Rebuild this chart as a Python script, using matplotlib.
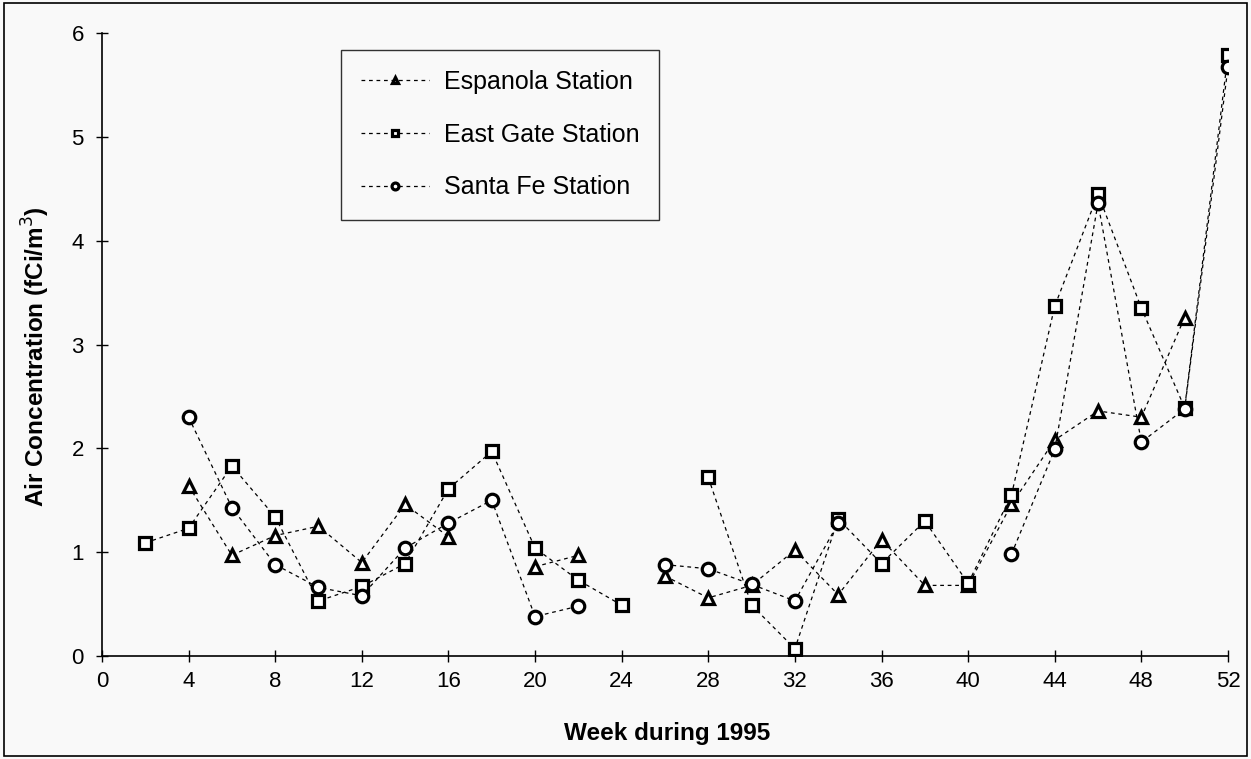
import numpy as np
import matplotlib
matplotlib.use('Agg')
import matplotlib.pyplot as plt
from matplotlib.patches import Rectangle

nan = np.nan

# sampling weeks (every other week)
weeks = [2, 4, 6, 8, 10, 12, 14, 16, 18, 20, 22, 24, 26,
         28, 30, 32, 34, 36, 38, 40, 42, 44, 46, 48, 50, 52]

# air concentration, fCi/m3 (nan = no sample)
espanola = [nan, 1.64, 0.97, 1.16, 1.25, 0.90, 1.46, 1.15, nan, 0.86, 0.97, nan, 0.77,
            0.56, 0.68, 1.02, 0.59, 1.12, 0.68, 0.68, 1.46, 2.08, 2.36, 2.30, 3.26, nan]
east_gate = [1.09, 1.23, 1.83, 1.34, 0.53, 0.67, 0.89, 1.61, 1.97, 1.04, 0.73, 0.49, nan,
             1.72, 0.49, 0.07, 1.32, 0.89, 1.30, 0.70, 1.55, 3.37, 4.45, 3.35, 2.39, 5.79]
santa_fe = [nan, 2.30, 1.43, 0.88, 0.66, 0.58, 1.04, 1.28, 1.50, 0.38, 0.48, nan, 0.88,
            0.84, 0.69, 0.53, 1.28, nan, nan, nan, 0.98, 1.99, 4.36, 2.06, 2.38, 5.67]

names = ['Espanola Station', 'East Gate Station', 'Santa Fe Station']
markers = ['^', 's', 'o']

plt.rcParams['font.family'] = ['Liberation Sans', 'DejaVu Sans']

bg = '#f9f9f9'
fig = plt.figure(figsize=(12.51, 7.59), dpi=100, facecolor=bg)
ax = fig.add_axes([0.0815, 0.1357, 0.9001, 0.8208])
ax.set_facecolor(bg)

for vals, m, name in zip([espanola, east_gate, santa_fe], markers, names):
    ax.plot(weeks, vals, color='black', linewidth=0.9, dashes=(3, 3),
            marker=m, markersize=9, markerfacecolor='white',
            markeredgecolor='black', markeredgewidth=2.3, label=name)

ax.set_xlim(0, 52)
ax.set_ylim(0, 6)
ax.set_xticks(np.arange(0, 53, 4))
ax.set_yticks(np.arange(0, 7, 1))
ax.tick_params(axis='both', direction='inout', length=8, width=1,
               labelsize=16, colors='black')
ax.tick_params(axis='x', pad=7)
ax.tick_params(axis='y', pad=9)
for s in ['top', 'right']:
    ax.spines[s].set_visible(False)
for s in ['left', 'bottom']:
    ax.spines[s].set_linewidth(1.2)

ax.set_xlabel('Week during 1995', fontsize=17.5, fontweight='bold')
ax.set_ylabel('Air Concentration (fCi/m$^3$)', fontsize=17.5, fontweight='bold')
ax.xaxis.set_label_coords(0.502, -0.1236)
ax.xaxis.label.set_va('center')
ax.yaxis.set_label_coords(-0.0586, 0.48)
ax.yaxis.label.set_va('center')

leg = ax.legend(loc='upper left', bbox_to_anchor=(341 / 1251, 1 - 50 / 759),
                bbox_transform=fig.transFigure, fontsize=18, markerscale=0.55,
                handlelength=2.7, handletextpad=0.6, labelspacing=1.15,
                borderpad=0.8, borderaxespad=0, frameon=True, fancybox=False)
leg.get_frame().set_edgecolor('black')
leg.get_frame().set_linewidth(1.0)
leg.get_frame().set_facecolor(bg)

# outer frame around whole figure
fig.patches.append(Rectangle((0.003, 0.004), 0.994, 0.992, transform=fig.transFigure,
                             fill=False, edgecolor='black', linewidth=1.2))

fig.savefig('out.png', dpi=100, facecolor=bg)
